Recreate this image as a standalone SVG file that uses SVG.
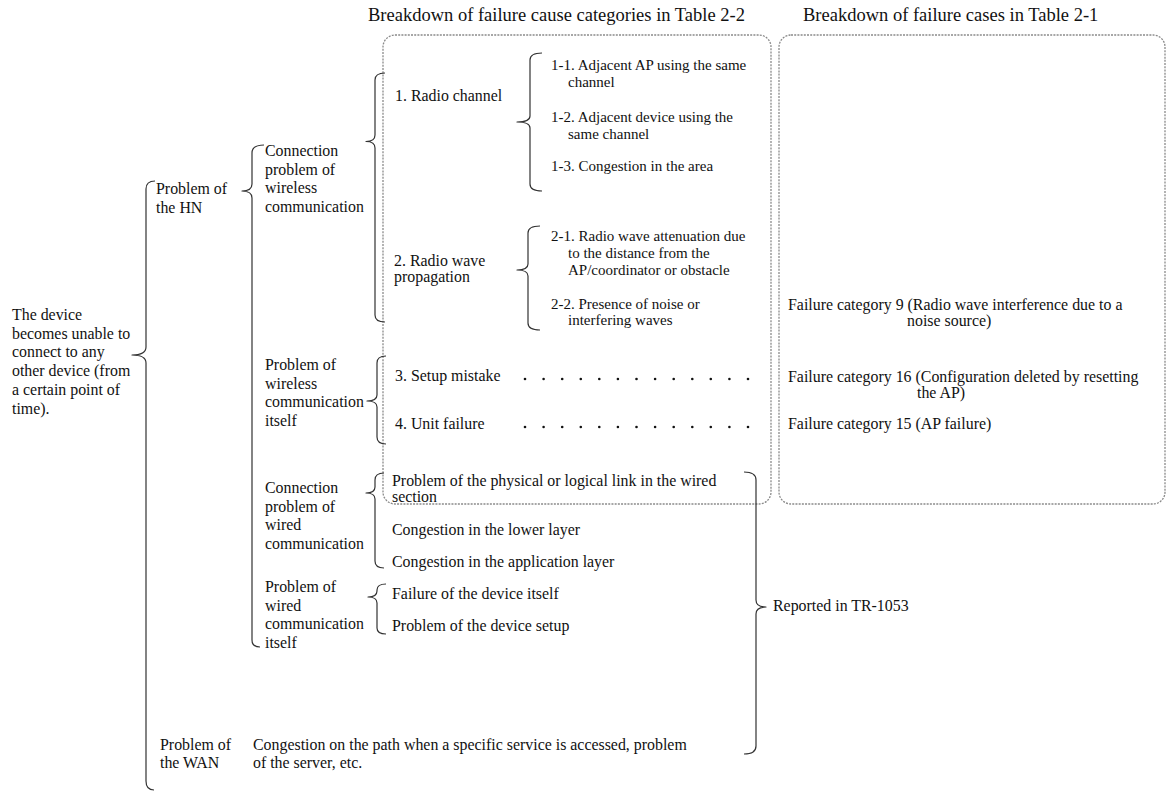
<svg xmlns="http://www.w3.org/2000/svg" width="1166" height="792" viewBox="0 0 1166 792">
  <style>
    .t { font-family: "Liberation Serif", "Times New Roman", serif; font-size: 15.9px; fill: #111; }
    .s { font-size: 15px; }
    .h { font-size: 18.5px; }
    .br { fill: none; stroke: #333; stroke-width: 1.2; stroke-linejoin: round; }
    .box { fill: none; stroke: #8a8a8a; stroke-width: 1.3; stroke-dasharray: 2 1.2; }
    .dot { fill: #111; }
  </style>
  <rect width="1166" height="792" fill="#fff"/>

  <!-- column headings -->
  <g id="headings">
    <text class="t h" x="368" y="21">Breakdown of failure cause categories in Table 2-2</text>
    <text class="t h" x="803" y="21">Breakdown of failure cases in Table 2-1</text>
  </g>

  <!-- dashed frames around the two breakdown columns -->
  <g id="frames">
    <rect class="box" x="383" y="35" width="388" height="469" rx="12"/>
    <rect class="box" x="779" y="35" width="386" height="469" rx="12"/>
  </g>

  <!-- braces linking each level to the next -->
  <g id="connectors">
    <!-- root -> HN / WAN -->
    <path class="br" d="M155,181 Q146,181 146,189 L146,347 Q146,355 132,355 Q146,355 146,363 L146,781 Q146,790 154,790"/>
    <!-- HN -> four sub-problems -->
    <path class="br" d="M264,145 Q252,145 252,153 L252,184 Q252,191 242,191 Q252,191 252,198 L252,640 Q252,647 260,647"/>
    <!-- wireless connection -> radio channel / radio wave -->
    <path class="br" d="M385,73 Q375,73 375,80 L375,135 Q375,141.5 366,141.5 Q375,141.5 375,148 L375,315 Q375,322 385,322"/>
    <!-- radio channel -> 1-1 .. 1-3 -->
    <path class="br" d="M542,53 Q530,53 530,60 L530,116 Q530,122 517,122 Q530,122 530,128 L530,184 Q530,191 542,191"/>
    <!-- radio wave -> 2-1 / 2-2 -->
    <path class="br" d="M540,226 Q528,226 528,233 L528,264 Q528,270 517,270 Q528,270 528,276 L528,323 Q528,330 540,330"/>
    <!-- wireless itself -> setup / unit -->
    <path class="br" d="M386,356 Q377,356 377,363 L377,395 Q377,401 367,401 Q377,401 377,407 L377,437 Q377,444 386,444"/>
    <!-- wired connection -> three causes -->
    <path class="br" d="M384,473 Q375,473 375,480 L375,487 Q375,493 366,493 Q375,493 375,499 L375,561 Q375,568 384,568"/>
    <!-- wired itself -> two causes -->
    <path class="br" d="M386,584 Q377,584 377,590 L377,591 Q377,597 368,597 Q377,597 377,603 L377,628 Q377,634 386,634"/>
    <!-- reported in TR-1053 -->
    <path class="br" d="M744,472 Q756,472 756,480 L756,600 Q756,607 766,607 Q756,607 756,614 L756,746 Q756,754 744,754"/>
  </g>

  <g id="root">
    <text class="t" x="12" y="320">The device</text>
    <text class="t" x="12" y="338.7">becomes unable to</text>
    <text class="t" x="12" y="357.4">connect to any</text>
    <text class="t" x="12" y="376.1">other device (from</text>
    <text class="t" x="12" y="394.8">a certain point of</text>
    <text class="t" x="12" y="413.5">time).</text>
  </g>

  <g id="hn">
    <text class="t" x="156" y="194">Problem of</text>
    <text class="t" x="156" y="212.5">the HN</text>
  </g>

  <g id="wan">
    <text class="t" x="160" y="750">Problem of</text>
    <text class="t" x="160" y="768">the WAN</text>
  </g>

  <g id="wan-causes">
    <text class="t" x="253" y="750">Congestion on the path when a specific service is accessed, problem</text>
    <text class="t" x="253" y="768">of the server, etc.</text>
  </g>

  <g id="wireless-connection">
    <text class="t" x="265" y="156">Connection</text>
    <text class="t" x="265" y="174.7">problem of</text>
    <text class="t" x="265" y="193.4">wireless</text>
    <text class="t" x="265" y="212">communication</text>
  </g>

  <g id="wireless-itself">
    <text class="t" x="265" y="370">Problem of</text>
    <text class="t" x="265" y="388.7">wireless</text>
    <text class="t" x="265" y="407.4">communication</text>
    <text class="t" x="265" y="426">itself</text>
  </g>

  <g id="wired-connection">
    <text class="t" x="265" y="493">Connection</text>
    <text class="t" x="265" y="511.7">problem of</text>
    <text class="t" x="265" y="530.4">wired</text>
    <text class="t" x="265" y="549">communication</text>
  </g>

  <g id="wired-itself">
    <text class="t" x="265" y="592">Problem of</text>
    <text class="t" x="265" y="610.7">wired</text>
    <text class="t" x="265" y="629.4">communication</text>
    <text class="t" x="265" y="648">itself</text>
  </g>

  <g id="radio-channel">
    <text class="t" x="395" y="101">1. Radio channel</text>
  </g>
  <g id="cause-1-1">
    <text class="t s" x="551" y="70">1-1. Adjacent AP using the same</text>
    <text class="t s" x="568" y="87">channel</text>
  </g>
  <g id="cause-1-2">
    <text class="t s" x="551" y="122">1-2. Adjacent device using the</text>
    <text class="t s" x="568" y="139">same channel</text>
  </g>
  <g id="cause-1-3">
    <text class="t s" x="551" y="171">1-3. Congestion in the area</text>
  </g>

  <g id="radio-wave">
    <text class="t" x="394" y="266">2. Radio wave</text>
    <text class="t" x="394" y="282">propagation</text>
  </g>
  <g id="cause-2-1">
    <text class="t s" x="551" y="241">2-1. Radio wave attenuation due</text>
    <text class="t s" x="568" y="258">to the distance from the</text>
    <text class="t s" x="568" y="275">AP/coordinator or obstacle</text>
  </g>
  <g id="cause-2-2">
    <text class="t s" x="551" y="309">2-2. Presence of noise or</text>
    <text class="t s" x="568" y="325">interfering waves</text>
  </g>

  <g id="setup-mistake">
    <text class="t" x="395" y="381">3. Setup mistake</text>
  </g>
  <g id="unit-failure">
    <text class="t" x="395" y="429">4. Unit failure</text>
  </g>

  <!-- dot leaders to the failure cases -->
  <g id="leaders" class="dot">
    <circle cx="525" cy="379" r="1.3"/><circle cx="543.6" cy="379" r="1.3"/><circle cx="562.2" cy="379" r="1.3"/>
    <circle cx="580.8" cy="379" r="1.3"/><circle cx="599.3" cy="379" r="1.3"/><circle cx="617.9" cy="379" r="1.3"/>
    <circle cx="636.5" cy="379" r="1.3"/><circle cx="655.1" cy="379" r="1.3"/><circle cx="673.7" cy="379" r="1.3"/>
    <circle cx="692.3" cy="379" r="1.3"/><circle cx="710.8" cy="379" r="1.3"/><circle cx="729.4" cy="379" r="1.3"/>
    <circle cx="748" cy="379" r="1.3"/>
    <circle cx="525" cy="427" r="1.3"/><circle cx="543.6" cy="427" r="1.3"/><circle cx="562.2" cy="427" r="1.3"/>
    <circle cx="580.8" cy="427" r="1.3"/><circle cx="599.3" cy="427" r="1.3"/><circle cx="617.9" cy="427" r="1.3"/>
    <circle cx="636.5" cy="427" r="1.3"/><circle cx="655.1" cy="427" r="1.3"/><circle cx="673.7" cy="427" r="1.3"/>
    <circle cx="692.3" cy="427" r="1.3"/><circle cx="710.8" cy="427" r="1.3"/><circle cx="729.4" cy="427" r="1.3"/>
    <circle cx="748" cy="427" r="1.3"/>
  </g>

  <g id="failure-9">
    <text class="t" x="788" y="310">Failure category 9 (Radio wave interference due to a</text>
    <text class="t" x="907" y="326">noise source)</text>
  </g>
  <g id="failure-16">
    <text class="t" x="788" y="382">Failure category 16 (Configuration deleted by resetting</text>
    <text class="t" x="917" y="397.5">the AP)</text>
  </g>
  <g id="failure-15">
    <text class="t" x="788" y="429">Failure category 15 (AP failure)</text>
  </g>

  <g id="wired-link">
    <text class="t" x="392" y="486">Problem of the physical or logical link in the wired</text>
    <text class="t" x="392" y="502">section</text>
  </g>
  <g id="wired-lower">
    <text class="t" x="392" y="535">Congestion in the lower layer</text>
  </g>
  <g id="wired-app">
    <text class="t" x="392" y="567">Congestion in the application layer</text>
  </g>
  <g id="device-failure">
    <text class="t" x="392" y="599">Failure of the device itself</text>
  </g>
  <g id="device-setup">
    <text class="t" x="392" y="631">Problem of the device setup</text>
  </g>

  <g id="reported">
    <text class="t" x="773" y="611">Reported in TR-1053</text>
  </g>
</svg>
